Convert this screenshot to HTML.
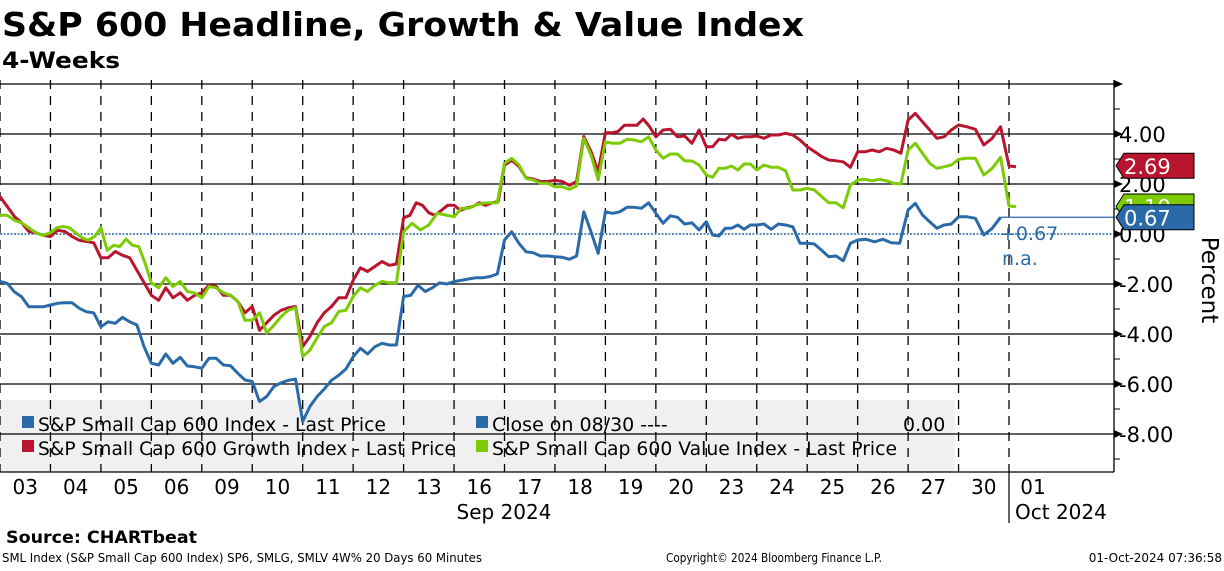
<!DOCTYPE html>
<html><head><meta charset="utf-8">
<style>
body{margin:0;background:#fff;width:1224px;height:566px;overflow:hidden;font-family:"Liberation Sans","DejaVu Sans",sans-serif;}
svg text{font-family:"DejaVu Sans","Liberation Sans",sans-serif;}
</style></head><body>
<svg id="chart" width="1224" height="566" xmlns="http://www.w3.org/2000/svg">
<text x="2" y="36" font-size="33" font-weight="bold" fill="#000" textLength="802" lengthAdjust="spacingAndGlyphs">S&amp;P 600 Headline, Growth &amp; Value Index</text>
<text x="2" y="68" font-size="22" font-weight="bold" fill="#000" textLength="118" lengthAdjust="spacingAndGlyphs">4-Weeks</text>
<rect x="0" y="400" width="955" height="72" fill="#f0f0f0"/>
<g id="grid"></g>
<g id="series"></g>
<g id="axis"></g>
<g font-size="19" fill="#000">
<rect x="22" y="416" width="12" height="12" fill="#2a6aa8"/><text x="38" y="431" textLength="348" lengthAdjust="spacingAndGlyphs">S&amp;P Small Cap 600 Index - Last Price</text>
<rect x="476" y="416" width="12" height="12" fill="#2a6aa8"/><text x="492" y="431">Close on 08/30 ----</text>
<text x="903" y="431">0.00</text>
<rect x="22" y="440" width="12" height="12" fill="#b8152e"/><text x="38" y="455" textLength="418" lengthAdjust="spacingAndGlyphs">S&amp;P Small Cap 600 Growth Index - Last Price</text>
<rect x="476" y="440" width="12" height="12" fill="#7ccb05"/><text x="492" y="455" textLength="405" lengthAdjust="spacingAndGlyphs">S&amp;P Small Cap 600 Value Index - Last Price</text>
</g>
<text transform="translate(1202,280) rotate(90)" font-size="23" text-anchor="middle">Percent</text>
<text x="6" y="543" font-size="17" font-weight="bold" textLength="191" lengthAdjust="spacingAndGlyphs">Source:  CHARTbeat</text>
<text x="2" y="562" font-size="12" textLength="480" lengthAdjust="spacingAndGlyphs">SML Index (S&amp;P Small Cap 600 Index) SP6, SMLG, SMLV 4W% 20 Days 60 Minutes</text>
<text x="666" y="562" font-size="12" textLength="216" lengthAdjust="spacingAndGlyphs">Copyright© 2024 Bloomberg Finance L.P.</text>
<text x="1222" y="562" font-size="12" text-anchor="end">01-Oct-2024 07:36:58</text>
</svg>
<script>
const dayLabels=["03","04","05","06","09","10","11","12","13","16","17","18","19","20","23","24","25","26","27","30","01"];
const yTicks=[4,2,0,-2,-4,-6,-8];
const growth=[[1.5,1.1,0.7,0.45,0.1,0.05,-0.05],[-0.1,0.15,0.1,-0.1,-0.25,-0.3,-0.35],[-0.95,-0.95,-0.7,-0.85,-0.95,-1.45,-1.95],[-2.45,-2.65,-2.15,-2.55,-2.35,-2.65,-2.45],[-2.35,-2.05,-2.1,-2.45,-2.45,-2.7,-3.15],[-2.9,-3.85,-3.55,-3.25,-3.05,-2.95,-2.9],[-4.5,-4.1,-3.55,-3.15,-2.9,-2.55,-2.55],[-1.85,-1.35,-1.5,-1.3,-1.1,-1.25,-1.2],[0.65,0.75,1.25,1.15,0.85,0.75,0.95,1.15],[1.15,0.95,1.05,1.1,1.25,1.15,1.25,1.3],[2.75,2.95,2.7,2.25,2.2,2.1,2.1],[2.15,2.1,1.95,2.1,3.9,3.3,2.5],[4.05,4.05,4.1,4.35,4.35,4.35,4.6,4.3],[3.89,4.16,4.19,3.89,3.92,3.63,4.16],[3.49,3.49,3.79,3.76,3.99,3.83,3.89,3.89],[3.92,3.83,3.96,3.96,4.03,3.96,3.76],[3.49,3.3,3.1,2.96,2.93,2.89,2.67],[3.29,3.29,3.36,3.29,3.43,3.36,3.23],[4.56,4.83,4.49,4.16,3.83,3.89,4.16],[4.36,4.29,4.19,3.56,3.83,4.29],[2.72,2.69]];
const value=[[0.75,0.75,0.55,0.45,0.25,0.05,-0.05],[0.05,0.25,0.3,0.25,0.05,-0.15,-0.25,-0.1],[0.25,-0.65,-0.45,-0.5,-0.2,-0.45,-0.5,-1.15],[-1.95,-2.15,-1.75,-2.1,-1.9,-2.3,-2.35],[-2.55,-2.1,-2.15,-2.35,-2.45,-2.7,-3.45],[-3.45,-3.15,-3.95,-3.65,-3.3,-3.05,-2.95],[-4.9,-4.65,-4.15,-3.7,-3.55,-3.1,-3.05],[-2.5,-2.15,-2.3,-2.05,-1.9,-1.95,-1.95],[0.09,0.43,0.16,0.36,0.83,0.76],[0.69,1.03,1.03,1.16,1.23,1.25,1.25],[2.83,3.03,2.76,2.23,2.16,2.03,2.03],[1.89,1.89,1.79,1.92,3.83,3.16,2.16],[3.69,3.63,3.63,3.79,3.76,3.69,3.89],[3.36,3.03,3.2,3.2,2.93,2.92,2.76],[2.36,2.27,2.63,2.63,2.72,2.56,2.8,2.8],[2.56,2.76,2.67,2.67,2.53,1.76,1.76],[1.83,1.76,1.5,1.25,1.25,1.05,1.96],[2.16,2.19,2.13,2.19,2.13,2.03,2.0],[3.36,3.63,3.23,2.83,2.63,2.69,2.76],[2.99,3.03,3.03,2.36,2.63,3.07],[1.12,1.09]];
const headline=[[-1.9,-1.97,-2.31,-2.51,-2.91,-2.91,-2.91],[-2.84,-2.77,-2.75,-2.75,-2.97,-3.11,-3.15],[-3.71,-3.51,-3.57,-3.33,-3.51,-3.64,-4.51],[-5.17,-5.24,-4.8,-5.17,-4.93,-5.28,-5.31],[-5.37,-4.97,-4.97,-5.24,-5.27,-5.57,-5.84],[-5.9,-6.7,-6.5,-6.1,-5.95,-5.85,-5.8],[-7.5,-6.9,-6.5,-6.2,-5.85,-5.65,-5.4],[-4.91,-4.57,-4.8,-4.51,-4.37,-4.44,-4.44],[-2.5,-2.45,-2.05,-2.3,-2.15,-1.95,-2.0],[-1.9,-1.85,-1.8,-1.75,-1.75,-1.7,-1.6],[-0.24,0.09,-0.37,-0.71,-0.75,-0.88,-0.88],[-0.91,-0.93,-1.01,-0.88,0.89,0.09,-0.77],[0.89,0.83,0.89,1.07,1.07,1.03,1.25],[0.83,0.43,0.73,0.67,0.4,0.45,0.16],[0.49,-0.04,-0.08,0.23,0.23,0.36,0.19,0.36],[0.36,0.4,0.19,0.4,0.36,0.29,-0.37],[-0.37,-0.4,-0.65,-0.91,-0.88,-1.07,-0.37],[-0.24,-0.21,-0.31,-0.21,-0.35,-0.37],[0.96,1.23,0.76,0.49,0.23,0.36,0.4],[0.69,0.69,0.63,-0.04,0.23,0.67]];
const lastValues=[2.69,1.10,0.67];

const NS="http://www.w3.org/2000/svg";
const DW=50.45, PR=1114, PT=80, PB=472;
function yScale(v){return 234-v*25;}
function dayX(d){return d*DW;}
function ptX(d,j,n){return d===20? dayX(d)+j*7 : dayX(d)+j/n*DW;}
function mk(tag,attrs,parent){const e=document.createElementNS(NS,tag);for(const k in attrs)e.setAttribute(k,attrs[k]);parent.appendChild(e);return e;}
const grid=document.getElementById('grid'),ser=document.getElementById('series'),ax=document.getElementById('axis');
[6,4,2,-2,-4,-6,-8].forEach(v=>{
  const l=mk('line',{x1:0,x2:PR,y1:yScale(v),y2:yScale(v),stroke:'#000','stroke-width':1.3},grid);
  
  
});
const zl=mk('line',{x1:0,x2:PR,y1:234,y2:234,stroke:'#2a6aa8','stroke-width':1.5,'stroke-dasharray':'2,1.5'},grid);


for(let d=0;d<=20;d++){
  const l=mk('line',{x1:dayX(d),x2:dayX(d),y1:PT,y2:PB,stroke:'#000','stroke-width':1.3,'stroke-dasharray':'9,7'},grid);
  
  
}
mk('line',{x1:PR,x2:PR,y1:PT,y2:PB,stroke:'#000','stroke-width':1.3},ax);
mk('line',{x1:0,x2:PR,y1:PB,y2:PB,stroke:'#000','stroke-width':1.3},ax);
mk('line',{x1:dayX(20),x2:dayX(20),y1:PB,y2:523,stroke:'#000','stroke-width':1.2},ax);
[6].concat(yTicks).forEach(v=>{
  mk('path',{d:`M${PR},${yScale(v)-4}L${PR+9},${yScale(v)}L${PR},${yScale(v)+4}Z`,fill:'#000'},ax);
});
[5,3,1,-1,-3,-5,-7,-9].forEach(v=>mk('line',{x1:PR,x2:PR+6,y1:yScale(v),y2:yScale(v),stroke:'#000'},ax));
yTicks.forEach(v=>{
  const t=mk('text',{x:PR+5,y:yScale(v)+8,'font-size':21},ax);
  t.textContent=(v<0?'-':'')+Math.abs(v).toFixed(2);
  
  
});
dayLabels.forEach((lb,d)=>{
  const t=mk('text',{x:d===20?dayX(d)+24:dayX(d)+DW/2,y:494,'font-size':20,'text-anchor':'middle'},ax);
  t.textContent=lb;
  
  
});
const sp=mk('text',{x:504,y:519,'font-size':20,'text-anchor':'middle'},ax);sp.textContent='Sep 2024';


const oc=mk('text',{x:1015,y:519,'font-size':20},ax);oc.textContent='Oct 2024';


function drawSeries(data,color,name){
  const pts=[];
  data.forEach((day,d)=>day.forEach((v,j)=>pts.push([ptX(d,j,day.length),yScale(v)])));
  const p=mk('polyline',{points:pts.map(p=>p[0].toFixed(1)+','+p[1].toFixed(1)).join(' '),fill:'none',stroke:color,'stroke-width':3,'stroke-linejoin':'round'},ser);
  
  
  return pts;
}
drawSeries(growth,'#b8152e','growth-line');
drawSeries(value,'#7ccb05','value-line');
const hp=drawSeries(headline,'#2a6aa8','headline-line');
const last=hp[hp.length-1];
mk('line',{x1:last[0],x2:PR,y1:last[1],y2:last[1],stroke:'#2a6aa8','stroke-width':1.3},ser);
const a1=mk('text',{x:1000,y:240,'font-size':19,fill:'#2a6aa8'},ser);a1.textContent='+0.67';


const a2=mk('text',{x:1002,y:265,'font-size':19,fill:'#2a6aa8'},ser);a2.textContent='n.a.';


const tagColors=['#b8152e','#7ccb05','#2a6aa8'];
const tagNames=['growth-last-tag','value-last-tag','headline-last-tag'];
lastValues.forEach((v,i)=>{
  const y=yScale(v)-(i===0?1:0);
  const g=mk('g',{},ax);
  
  
  mk('path',{d:`M${PR+2},${y}L${PR+10},${y-12.5}H1194V${y+12.5}H${PR+10}Z`,fill:tagColors[i],stroke:'#000','stroke-width':1},g);
  const t=mk('text',{x:1124,y:y+8,'font-size':21,fill:'#fff'},g);t.textContent=v.toFixed(2);
});
</script>
</body></html>
